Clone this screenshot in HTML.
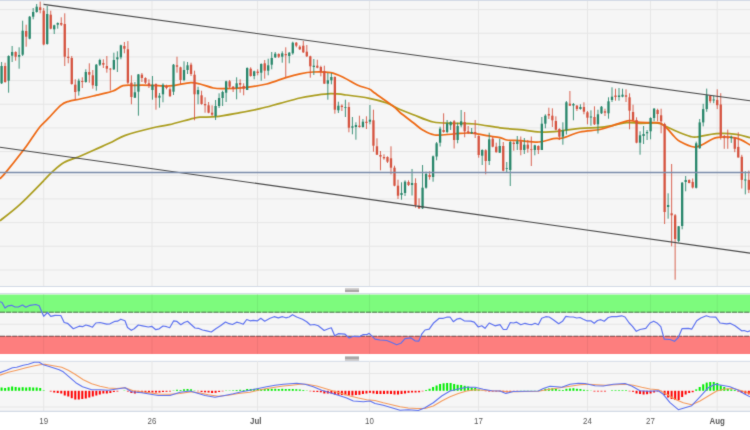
<!DOCTYPE html>
<html><head><meta charset="utf-8"><style>
html,body{margin:0;padding:0;background:#fff;overflow:hidden;}
svg{display:block;font-family:"Liberation Sans",sans-serif;}
</style></head><body>
<svg width="750" height="430" viewBox="0 0 750 430">
<defs><filter id="bl" color-interpolation-filters="sRGB" x="0" y="0" width="750" height="430" filterUnits="userSpaceOnUse"><feConvolveMatrix order="3" kernelMatrix="0.02 0.08 0.02 0.08 0.6 0.08 0.02 0.08 0.02" edgeMode="duplicate" preserveAlpha="true"/></filter></defs>
<g filter="url(#bl)">
<rect x="0" y="0" width="750" height="430" fill="#fff"/>
<rect x="0" y="0" width="750" height="286.5" fill="#f6f6f6"/>
<line x1="0" y1="9.60" x2="750" y2="9.60" stroke="#e6e6e6" stroke-width="1"/>
<line x1="0" y1="33.27" x2="750" y2="33.27" stroke="#e6e6e6" stroke-width="1"/>
<line x1="0" y1="56.94" x2="750" y2="56.94" stroke="#e6e6e6" stroke-width="1"/>
<line x1="0" y1="80.61" x2="750" y2="80.61" stroke="#e6e6e6" stroke-width="1"/>
<line x1="0" y1="104.28" x2="750" y2="104.28" stroke="#e6e6e6" stroke-width="1"/>
<line x1="0" y1="127.95" x2="750" y2="127.95" stroke="#e6e6e6" stroke-width="1"/>
<line x1="0" y1="151.62" x2="750" y2="151.62" stroke="#e6e6e6" stroke-width="1"/>
<line x1="0" y1="175.29" x2="750" y2="175.29" stroke="#e6e6e6" stroke-width="1"/>
<line x1="0" y1="198.96" x2="750" y2="198.96" stroke="#e6e6e6" stroke-width="1"/>
<line x1="0" y1="222.63" x2="750" y2="222.63" stroke="#e6e6e6" stroke-width="1"/>
<line x1="0" y1="246.30" x2="750" y2="246.30" stroke="#e6e6e6" stroke-width="1"/>
<line x1="0" y1="269.97" x2="750" y2="269.97" stroke="#e6e6e6" stroke-width="1"/>
<line x1="43.7" y1="0" x2="43.7" y2="286.5" stroke="#e6e6e6" stroke-width="1"/>
<line x1="152" y1="0" x2="152" y2="286.5" stroke="#e6e6e6" stroke-width="1"/>
<line x1="257.5" y1="0" x2="257.5" y2="286.5" stroke="#e6e6e6" stroke-width="1"/>
<line x1="369.5" y1="0" x2="369.5" y2="286.5" stroke="#e6e6e6" stroke-width="1"/>
<line x1="478.5" y1="0" x2="478.5" y2="286.5" stroke="#e6e6e6" stroke-width="1"/>
<line x1="587.5" y1="0" x2="587.5" y2="286.5" stroke="#e6e6e6" stroke-width="1"/>
<line x1="650.5" y1="0" x2="650.5" y2="286.5" stroke="#e6e6e6" stroke-width="1"/>
<line x1="717.2" y1="0" x2="717.2" y2="286.5" stroke="#e6e6e6" stroke-width="1"/>
<line x1="0" y1="0.5" x2="750" y2="0.5" stroke="#d3dae6" stroke-width="1.2"/>
<line x1="0" y1="286.5" x2="750" y2="286.5" stroke="#d3dae6" stroke-width="1.2"/>
<rect x="345" y="288.2" width="14" height="1.8" fill="#c9c6c6"/>
<rect x="345" y="290.0" width="14" height="2.1" fill="#a9a5a5"/>
<rect x="0" y="294" width="750" height="60" fill="#f6f6f6"/>
<line x1="0" y1="293.6" x2="750" y2="293.6" stroke="#d3dae6" stroke-width="1"/>
<rect x="0" y="294.6" width="750" height="17.4" fill="#7dfb7d"/>
<rect x="0" y="336" width="750" height="18" fill="#fd7e7e"/>
<line x1="0" y1="324.3" x2="750" y2="324.3" stroke="#e6e6e6" stroke-width="1"/>
<line x1="43.7" y1="294" x2="43.7" y2="354" stroke="rgba(0,0,0,0.06)" stroke-width="1"/>
<line x1="152" y1="294" x2="152" y2="354" stroke="rgba(0,0,0,0.06)" stroke-width="1"/>
<line x1="257.5" y1="294" x2="257.5" y2="354" stroke="rgba(0,0,0,0.06)" stroke-width="1"/>
<line x1="369.5" y1="294" x2="369.5" y2="354" stroke="rgba(0,0,0,0.06)" stroke-width="1"/>
<line x1="478.5" y1="294" x2="478.5" y2="354" stroke="rgba(0,0,0,0.06)" stroke-width="1"/>
<line x1="587.5" y1="294" x2="587.5" y2="354" stroke="rgba(0,0,0,0.06)" stroke-width="1"/>
<line x1="650.5" y1="294" x2="650.5" y2="354" stroke="rgba(0,0,0,0.06)" stroke-width="1"/>
<line x1="717.2" y1="294" x2="717.2" y2="354" stroke="rgba(0,0,0,0.06)" stroke-width="1"/>
<rect x="0" y="312" width="750" height="0.6" fill="#7dfb7d"/>
<line x1="0" y1="312.2" x2="750" y2="312.2" stroke="#262626" stroke-width="0.85" stroke-dasharray="5,1.1" opacity="0.8"/>
<line x1="0" y1="336.2" x2="750" y2="336.2" stroke="#262626" stroke-width="0.85" stroke-dasharray="5,1.1" opacity="0.8"/>
<rect x="345" y="356.4" width="14" height="2.6" fill="#a9a6a6"/>
<rect x="345" y="359.0" width="14" height="1.9" fill="#cac7c7"/>
<rect x="0" y="361" width="750" height="50.5" fill="#f6f6f6"/>
<line x1="0" y1="361.3" x2="750" y2="361.3" stroke="#d3dae6" stroke-width="1"/>
<line x1="0" y1="373.5" x2="750" y2="373.5" stroke="#e6e6e6" stroke-width="1"/>
<line x1="0" y1="407" x2="750" y2="407" stroke="#e6e6e6" stroke-width="1"/>
<line x1="43.7" y1="361" x2="43.7" y2="411" stroke="#e6e6e6" stroke-width="1"/>
<line x1="152" y1="361" x2="152" y2="411" stroke="#e6e6e6" stroke-width="1"/>
<line x1="257.5" y1="361" x2="257.5" y2="411" stroke="#e6e6e6" stroke-width="1"/>
<line x1="369.5" y1="361" x2="369.5" y2="411" stroke="#e6e6e6" stroke-width="1"/>
<line x1="478.5" y1="361" x2="478.5" y2="411" stroke="#e6e6e6" stroke-width="1"/>
<line x1="587.5" y1="361" x2="587.5" y2="411" stroke="#e6e6e6" stroke-width="1"/>
<line x1="650.5" y1="361" x2="650.5" y2="411" stroke="#e6e6e6" stroke-width="1"/>
<line x1="717.2" y1="361" x2="717.2" y2="411" stroke="#e6e6e6" stroke-width="1"/>
<line x1="0" y1="411.4" x2="750" y2="411.4" stroke="#d3dae6" stroke-width="1.2"/>
<path d="M0.0,220.8 C3.2,218.2 12.5,211.3 19.5,204.9 C26.5,198.5 37.7,186.8 41.8,182.6 C45.9,178.4 42.5,181.8 44.2,180.0 C46.0,178.2 49.0,174.8 52.3,171.9 C55.6,169.0 59.4,165.2 64.0,162.6 C68.6,160.0 75.0,158.3 80.0,156.2 C85.0,154.1 88.8,152.4 94.1,150.0 C99.4,147.6 106.8,144.4 112.0,142.0 C117.2,139.6 118.6,137.7 125.3,135.4 C132.0,133.1 144.7,129.8 152.0,128.0 C159.3,126.2 162.4,126.3 169.3,124.7 C176.2,123.1 188.2,119.5 193.3,118.3 C198.4,117.0 196.2,117.5 200.0,117.2 C203.8,116.9 209.3,117.5 216.0,116.7 C222.7,116.0 232.7,114.0 240.0,112.7 C247.3,111.4 253.3,110.3 260.0,108.7 C266.7,107.1 273.3,105.1 280.0,103.3 C286.7,101.5 294.4,99.3 300.0,98.0 C305.6,96.7 308.2,96.4 313.3,95.7 C318.4,95.0 325.1,93.8 330.7,93.7 C336.3,93.6 340.3,94.2 346.7,95.0 C353.1,95.8 362.6,97.0 369.3,98.3 C376.0,99.6 381.6,101.1 386.7,103.0 C391.8,104.9 395.6,107.5 400.0,109.5 C404.4,111.5 407.8,112.6 413.3,114.7 C418.9,116.8 426.6,120.6 433.3,122.0 C440.0,123.4 446.4,123.0 453.3,123.3 C460.2,123.6 466.9,123.2 474.7,124.0 C482.5,124.8 492.4,126.8 500.0,127.8 C507.6,128.8 513.3,129.0 520.0,129.7 C526.7,130.4 533.3,131.8 540.0,132.0 C546.7,132.2 553.3,131.6 560.0,131.0 C566.7,130.4 573.3,128.9 580.0,128.3 C586.7,127.7 594.5,127.9 600.0,127.4 C605.5,126.9 608.8,126.1 613.3,125.3 C617.8,124.5 622.2,123.0 626.7,122.7 C631.2,122.4 635.3,123.2 640.0,123.3 C644.7,123.3 651.5,122.9 655.0,123.0 C658.5,123.1 659.0,123.4 661.0,124.0 C663.0,124.6 663.5,125.2 666.7,126.7 C669.9,128.2 676.1,131.1 680.0,132.7 C683.9,134.3 687.2,135.6 690.0,136.3 C692.8,137.0 692.2,137.4 696.6,137.0 C701.0,136.6 709.9,134.0 716.5,133.6 C723.1,133.2 730.8,133.6 736.4,134.3 C742.0,135.0 747.7,137.1 750.0,137.6" fill="none" stroke="#ab9d1e" stroke-width="1.75"/>
<path d="M0.0,178.8 C1.0,177.7 1.9,177.2 5.8,172.4 C9.7,167.7 18.8,156.2 23.3,150.3 C27.8,144.4 29.9,140.9 32.7,137.0 C35.5,133.1 37.5,129.8 40.0,126.7 C42.5,123.7 44.5,122.3 48.0,118.7 C51.5,115.1 57.2,108.2 60.7,105.3 C64.2,102.4 65.5,102.3 68.7,101.3 C71.9,100.2 75.9,99.9 80.0,99.0 C84.1,98.1 90.0,96.8 93.3,96.0 C96.6,95.2 96.7,95.1 100.0,94.3 C103.3,93.5 109.2,92.4 113.0,91.0 C116.8,89.6 119.3,86.7 123.0,85.7 C126.7,84.8 130.5,85.4 135.0,85.3 C139.5,85.2 144.7,85.2 150.0,85.3 C155.3,85.4 162.5,86.0 166.7,86.0 C170.9,86.0 171.0,85.8 175.0,85.3 C179.0,84.8 186.5,82.9 190.7,82.7 C194.9,82.5 196.2,83.1 200.0,84.0 C203.8,84.9 209.5,87.2 213.3,88.0 C217.1,88.8 217.1,88.8 222.7,88.7 C228.3,88.6 239.4,88.1 246.7,87.3 C254.0,86.5 260.0,85.7 266.7,84.0 C273.4,82.3 281.1,79.0 286.7,77.3 C292.2,75.6 295.6,74.7 300.0,73.8 C304.4,72.9 308.2,72.2 313.3,72.0 C318.4,71.8 325.6,71.8 330.7,72.7 C335.8,73.7 339.6,75.7 344.0,77.7 C348.4,79.8 353.1,83.1 357.3,85.0 C361.5,86.9 366.6,87.8 369.3,89.0 C372.0,90.2 369.3,89.1 373.3,92.0 C377.3,94.9 388.9,102.9 393.3,106.3 C397.8,109.7 396.7,109.8 400.0,112.5 C403.3,115.2 409.5,119.8 413.3,122.7 C417.1,125.6 419.1,128.0 422.7,130.0 C426.3,132.1 429.6,134.3 434.7,135.0 C439.8,135.7 448.0,134.3 453.3,134.0 C458.6,133.7 463.1,133.1 466.7,133.0 C470.3,132.9 471.4,132.9 474.7,133.3 C478.0,133.8 482.5,135.0 486.7,135.7 C490.9,136.4 496.7,136.9 500.0,137.6 C503.3,138.3 503.4,139.5 506.7,140.0 C510.0,140.5 514.7,140.4 520.0,140.7 C525.3,141.0 533.2,142.3 538.7,142.0 C544.2,141.7 549.3,139.4 553.3,138.7 C557.3,138.0 558.2,139.1 562.7,138.0 C567.2,136.9 573.8,133.4 580.0,132.0 C586.2,130.6 594.5,130.6 600.0,129.5 C605.5,128.4 608.4,126.8 613.3,125.3 C618.2,123.8 624.8,121.2 629.3,120.7 C633.8,120.2 635.7,122.1 640.0,122.4 C644.3,122.7 651.5,122.4 655.0,122.6 C658.5,122.8 659.0,122.6 661.0,123.5 C663.0,124.4 664.4,125.8 666.7,128.0 C669.0,130.2 672.5,134.8 674.7,137.0 C676.9,139.2 676.8,139.8 680.0,141.5 C683.2,143.2 690.1,146.6 694.0,147.0 C697.9,147.4 699.5,145.8 703.2,144.2 C707.0,142.6 711.0,138.6 716.5,137.6 C722.0,136.6 730.8,137.0 736.4,138.2 C742.0,139.4 747.7,143.8 750.0,144.9" fill="none" stroke="#ee6914" stroke-width="1.75"/>
<line x1="1.60" y1="62.0" x2="1.60" y2="84.0" stroke="#27866a" stroke-width="1" opacity="0.88"/>
<rect x="0.45" y="66.0" width="2.3" height="17.30" fill="#27866a"/>
<line x1="5.11" y1="62.7" x2="5.11" y2="82.7" stroke="#d5513d" stroke-width="1" opacity="0.88"/>
<rect x="3.96" y="66.0" width="2.3" height="16.00" fill="#d5513d"/>
<line x1="8.62" y1="55.3" x2="8.62" y2="92.7" stroke="#27866a" stroke-width="1" opacity="0.88"/>
<rect x="7.47" y="56.0" width="2.3" height="24.70" fill="#27866a"/>
<line x1="12.13" y1="46.0" x2="12.13" y2="62.0" stroke="#27866a" stroke-width="1" opacity="0.88"/>
<rect x="10.98" y="52.0" width="2.3" height="3.70" fill="#27866a"/>
<line x1="15.64" y1="51.3" x2="15.64" y2="60.7" stroke="#d5513d" stroke-width="1" opacity="0.88"/>
<rect x="14.49" y="52.0" width="2.3" height="4.70" fill="#d5513d"/>
<line x1="19.14" y1="47.3" x2="19.14" y2="68.7" stroke="#27866a" stroke-width="1" opacity="0.88"/>
<rect x="17.99" y="55.0" width="2.3" height="1.70" fill="#27866a"/>
<line x1="22.65" y1="20.7" x2="22.65" y2="56.0" stroke="#27866a" stroke-width="1" opacity="0.88"/>
<rect x="21.50" y="30.7" width="2.3" height="24.00" fill="#27866a"/>
<line x1="26.16" y1="24.7" x2="26.16" y2="46.7" stroke="#d5513d" stroke-width="1" opacity="0.88"/>
<rect x="25.01" y="31.0" width="2.3" height="5.70" fill="#d5513d"/>
<line x1="29.67" y1="16.0" x2="29.67" y2="39.3" stroke="#27866a" stroke-width="1" opacity="0.88"/>
<rect x="28.52" y="16.7" width="2.3" height="22.00" fill="#27866a"/>
<line x1="33.18" y1="8.0" x2="33.18" y2="19.3" stroke="#27866a" stroke-width="1" opacity="0.88"/>
<rect x="32.03" y="12.0" width="2.3" height="4.70" fill="#27866a"/>
<line x1="36.68" y1="4.0" x2="36.68" y2="12.7" stroke="#27866a" stroke-width="1" opacity="0.88"/>
<rect x="35.53" y="6.7" width="2.3" height="5.30" fill="#27866a"/>
<line x1="40.19" y1="1.6" x2="40.19" y2="13.3" stroke="#d5513d" stroke-width="1" opacity="0.88"/>
<rect x="39.04" y="7.3" width="2.3" height="2.70" fill="#d5513d"/>
<line x1="43.70" y1="8.0" x2="43.70" y2="45.3" stroke="#d5513d" stroke-width="1" opacity="0.88"/>
<rect x="42.55" y="10.7" width="2.3" height="33.80" fill="#d5513d"/>
<line x1="47.21" y1="6.0" x2="47.21" y2="44.7" stroke="#27866a" stroke-width="1" opacity="0.88"/>
<rect x="46.06" y="14.0" width="2.3" height="30.00" fill="#27866a"/>
<line x1="50.72" y1="10.7" x2="50.72" y2="29.3" stroke="#d5513d" stroke-width="1" opacity="0.88"/>
<rect x="49.57" y="14.7" width="2.3" height="14.00" fill="#d5513d"/>
<line x1="54.22" y1="24.7" x2="54.22" y2="34.0" stroke="#27866a" stroke-width="1" opacity="0.88"/>
<rect x="53.07" y="25.3" width="2.3" height="4.00" fill="#27866a"/>
<line x1="57.73" y1="22.4" x2="57.73" y2="28.7" stroke="#27866a" stroke-width="1" opacity="0.88"/>
<rect x="56.58" y="23.0" width="2.3" height="1.70" fill="#27866a"/>
<line x1="61.24" y1="17.3" x2="61.24" y2="26.0" stroke="#d5513d" stroke-width="1" opacity="0.88"/>
<rect x="60.09" y="23.0" width="2.3" height="1.70" fill="#d5513d"/>
<line x1="64.75" y1="13.3" x2="64.75" y2="66.0" stroke="#d5513d" stroke-width="1" opacity="0.88"/>
<rect x="63.60" y="24.0" width="2.3" height="32.70" fill="#d5513d"/>
<line x1="68.26" y1="48.0" x2="68.26" y2="63.3" stroke="#d5513d" stroke-width="1" opacity="0.88"/>
<rect x="67.11" y="56.7" width="2.3" height="1.30" fill="#d5513d"/>
<line x1="71.76" y1="56.0" x2="71.76" y2="84.7" stroke="#d5513d" stroke-width="1" opacity="0.88"/>
<rect x="70.61" y="58.0" width="2.3" height="26.00" fill="#d5513d"/>
<line x1="75.27" y1="79.3" x2="75.27" y2="100.0" stroke="#d5513d" stroke-width="1" opacity="0.88"/>
<rect x="74.12" y="84.7" width="2.3" height="7.30" fill="#d5513d"/>
<line x1="78.78" y1="78.7" x2="78.78" y2="95.7" stroke="#27866a" stroke-width="1" opacity="0.88"/>
<rect x="77.63" y="80.7" width="2.3" height="10.60" fill="#27866a"/>
<line x1="82.29" y1="77.3" x2="82.29" y2="88.0" stroke="#d5513d" stroke-width="1" opacity="0.88"/>
<rect x="81.14" y="81.0" width="2.3" height="1.00" fill="#d5513d"/>
<line x1="85.80" y1="69.3" x2="85.80" y2="82.7" stroke="#27866a" stroke-width="1" opacity="0.88"/>
<rect x="84.65" y="72.0" width="2.3" height="10.00" fill="#27866a"/>
<line x1="89.30" y1="63.3" x2="89.30" y2="82.7" stroke="#d5513d" stroke-width="1" opacity="0.88"/>
<rect x="88.15" y="72.0" width="2.3" height="2.70" fill="#d5513d"/>
<line x1="92.81" y1="70.0" x2="92.81" y2="88.7" stroke="#d5513d" stroke-width="1" opacity="0.88"/>
<rect x="91.66" y="75.3" width="2.3" height="10.00" fill="#d5513d"/>
<line x1="96.32" y1="64.0" x2="96.32" y2="90.7" stroke="#27866a" stroke-width="1" opacity="0.88"/>
<rect x="95.17" y="64.7" width="2.3" height="21.30" fill="#27866a"/>
<line x1="99.83" y1="58.7" x2="99.83" y2="66.0" stroke="#27866a" stroke-width="1" opacity="0.88"/>
<rect x="98.68" y="60.0" width="2.3" height="4.70" fill="#27866a"/>
<line x1="103.34" y1="59.3" x2="103.34" y2="68.0" stroke="#d5513d" stroke-width="1" opacity="0.88"/>
<rect x="102.19" y="63.0" width="2.3" height="1.70" fill="#d5513d"/>
<line x1="106.84" y1="56.0" x2="106.84" y2="72.7" stroke="#d5513d" stroke-width="1" opacity="0.88"/>
<rect x="105.69" y="66.0" width="2.3" height="2.70" fill="#d5513d"/>
<line x1="110.35" y1="68.0" x2="110.35" y2="90.5" stroke="#d5513d" stroke-width="1" opacity="0.88"/>
<rect x="109.20" y="68.7" width="2.3" height="0.80" fill="#d5513d"/>
<line x1="113.86" y1="52.7" x2="113.86" y2="70.0" stroke="#27866a" stroke-width="1" opacity="0.88"/>
<rect x="112.71" y="60.0" width="2.3" height="9.30" fill="#27866a"/>
<line x1="117.37" y1="51.3" x2="117.37" y2="72.0" stroke="#27866a" stroke-width="1" opacity="0.88"/>
<rect x="116.22" y="57.3" width="2.3" height="2.00" fill="#27866a"/>
<line x1="120.88" y1="44.7" x2="120.88" y2="59.3" stroke="#27866a" stroke-width="1" opacity="0.88"/>
<rect x="119.73" y="45.3" width="2.3" height="12.00" fill="#27866a"/>
<line x1="124.38" y1="42.0" x2="124.38" y2="53.3" stroke="#d5513d" stroke-width="1" opacity="0.88"/>
<rect x="123.23" y="46.0" width="2.3" height="2.70" fill="#d5513d"/>
<line x1="127.89" y1="41.1" x2="127.89" y2="84.0" stroke="#d5513d" stroke-width="1" opacity="0.88"/>
<rect x="126.74" y="49.3" width="2.3" height="33.40" fill="#d5513d"/>
<line x1="131.40" y1="75.3" x2="131.40" y2="104.3" stroke="#d5513d" stroke-width="1" opacity="0.88"/>
<rect x="130.25" y="82.7" width="2.3" height="14.30" fill="#d5513d"/>
<line x1="134.91" y1="82.0" x2="134.91" y2="98.0" stroke="#27866a" stroke-width="1" opacity="0.88"/>
<rect x="133.76" y="92.3" width="2.3" height="5.40" fill="#27866a"/>
<line x1="138.42" y1="74.0" x2="138.42" y2="115.7" stroke="#27866a" stroke-width="1" opacity="0.88"/>
<rect x="137.27" y="74.4" width="2.3" height="17.30" fill="#27866a"/>
<line x1="141.92" y1="73.0" x2="141.92" y2="82.0" stroke="#d5513d" stroke-width="1" opacity="0.88"/>
<rect x="140.77" y="74.7" width="2.3" height="3.30" fill="#d5513d"/>
<line x1="145.43" y1="77.3" x2="145.43" y2="84.0" stroke="#d5513d" stroke-width="1" opacity="0.88"/>
<rect x="144.28" y="78.0" width="2.3" height="4.70" fill="#d5513d"/>
<line x1="148.94" y1="79.3" x2="148.94" y2="88.0" stroke="#d5513d" stroke-width="1" opacity="0.88"/>
<rect x="147.79" y="83.3" width="2.3" height="2.70" fill="#d5513d"/>
<line x1="152.45" y1="76.0" x2="152.45" y2="99.7" stroke="#27866a" stroke-width="1" opacity="0.88"/>
<rect x="151.30" y="84.7" width="2.3" height="5.30" fill="#27866a"/>
<line x1="155.96" y1="83.3" x2="155.96" y2="109.7" stroke="#d5513d" stroke-width="1" opacity="0.88"/>
<rect x="154.81" y="84.0" width="2.3" height="13.70" fill="#d5513d"/>
<line x1="159.46" y1="93.0" x2="159.46" y2="107.7" stroke="#27866a" stroke-width="1" opacity="0.88"/>
<rect x="158.31" y="95.7" width="2.3" height="2.00" fill="#27866a"/>
<line x1="162.97" y1="83.3" x2="162.97" y2="102.3" stroke="#27866a" stroke-width="1" opacity="0.88"/>
<rect x="161.82" y="84.7" width="2.3" height="9.60" fill="#27866a"/>
<line x1="166.48" y1="84.7" x2="166.48" y2="89.3" stroke="#d5513d" stroke-width="1" opacity="0.88"/>
<rect x="165.33" y="86.0" width="2.3" height="2.00" fill="#d5513d"/>
<line x1="169.99" y1="87.3" x2="169.99" y2="96.7" stroke="#d5513d" stroke-width="1" opacity="0.88"/>
<rect x="168.84" y="89.3" width="2.3" height="7.00" fill="#d5513d"/>
<line x1="173.50" y1="64.0" x2="173.50" y2="95.0" stroke="#27866a" stroke-width="1" opacity="0.88"/>
<rect x="172.35" y="64.7" width="2.3" height="27.00" fill="#27866a"/>
<line x1="177.00" y1="56.7" x2="177.00" y2="72.7" stroke="#d5513d" stroke-width="1" opacity="0.88"/>
<rect x="175.85" y="65.3" width="2.3" height="1.40" fill="#d5513d"/>
<line x1="180.51" y1="66.7" x2="180.51" y2="84.0" stroke="#d5513d" stroke-width="1" opacity="0.88"/>
<rect x="179.36" y="67.3" width="2.3" height="12.70" fill="#d5513d"/>
<line x1="184.02" y1="61.3" x2="184.02" y2="81.3" stroke="#27866a" stroke-width="1" opacity="0.88"/>
<rect x="182.87" y="70.0" width="2.3" height="10.00" fill="#27866a"/>
<line x1="187.53" y1="62.0" x2="187.53" y2="74.0" stroke="#27866a" stroke-width="1" opacity="0.88"/>
<rect x="186.38" y="65.3" width="2.3" height="4.70" fill="#27866a"/>
<line x1="191.04" y1="62.7" x2="191.04" y2="76.0" stroke="#d5513d" stroke-width="1" opacity="0.88"/>
<rect x="189.89" y="64.7" width="2.3" height="9.30" fill="#d5513d"/>
<line x1="194.54" y1="70.7" x2="194.54" y2="120.3" stroke="#d5513d" stroke-width="1" opacity="0.88"/>
<rect x="193.39" y="74.7" width="2.3" height="19.60" fill="#d5513d"/>
<line x1="198.05" y1="86.7" x2="198.05" y2="104.3" stroke="#27866a" stroke-width="1" opacity="0.88"/>
<rect x="196.90" y="90.0" width="2.3" height="4.30" fill="#27866a"/>
<line x1="201.56" y1="90.7" x2="201.56" y2="104.7" stroke="#d5513d" stroke-width="1" opacity="0.88"/>
<rect x="200.41" y="95.3" width="2.3" height="8.70" fill="#d5513d"/>
<line x1="205.07" y1="97.3" x2="205.07" y2="112.7" stroke="#d5513d" stroke-width="1" opacity="0.88"/>
<rect x="203.92" y="104.0" width="2.3" height="1.30" fill="#d5513d"/>
<line x1="208.58" y1="102.0" x2="208.58" y2="113.3" stroke="#d5513d" stroke-width="1" opacity="0.88"/>
<rect x="207.43" y="105.3" width="2.3" height="7.40" fill="#d5513d"/>
<line x1="212.08" y1="105.3" x2="212.08" y2="116.0" stroke="#d5513d" stroke-width="1" opacity="0.88"/>
<rect x="210.93" y="112.7" width="2.3" height="2.00" fill="#d5513d"/>
<line x1="215.59" y1="100.0" x2="215.59" y2="120.0" stroke="#27866a" stroke-width="1" opacity="0.88"/>
<rect x="214.44" y="106.0" width="2.3" height="10.00" fill="#27866a"/>
<line x1="219.10" y1="93.3" x2="219.10" y2="108.0" stroke="#27866a" stroke-width="1" opacity="0.88"/>
<rect x="217.95" y="98.0" width="2.3" height="8.00" fill="#27866a"/>
<line x1="222.61" y1="90.7" x2="222.61" y2="106.0" stroke="#27866a" stroke-width="1" opacity="0.88"/>
<rect x="221.46" y="92.0" width="2.3" height="6.00" fill="#27866a"/>
<line x1="226.12" y1="80.7" x2="226.12" y2="102.0" stroke="#27866a" stroke-width="1" opacity="0.88"/>
<rect x="224.97" y="81.3" width="2.3" height="11.40" fill="#27866a"/>
<line x1="229.62" y1="80.0" x2="229.62" y2="88.0" stroke="#d5513d" stroke-width="1" opacity="0.88"/>
<rect x="228.47" y="81.3" width="2.3" height="5.40" fill="#d5513d"/>
<line x1="233.13" y1="86.0" x2="233.13" y2="92.0" stroke="#d5513d" stroke-width="1" opacity="0.88"/>
<rect x="231.98" y="86.7" width="2.3" height="2.00" fill="#d5513d"/>
<line x1="236.64" y1="77.3" x2="236.64" y2="99.3" stroke="#27866a" stroke-width="1" opacity="0.88"/>
<rect x="235.49" y="83.3" width="2.3" height="4.70" fill="#27866a"/>
<line x1="240.15" y1="79.3" x2="240.15" y2="92.7" stroke="#d5513d" stroke-width="1" opacity="0.88"/>
<rect x="239.00" y="83.0" width="2.3" height="1.70" fill="#d5513d"/>
<line x1="243.66" y1="83.3" x2="243.66" y2="95.3" stroke="#d5513d" stroke-width="1" opacity="0.88"/>
<rect x="242.51" y="86.0" width="2.3" height="2.70" fill="#d5513d"/>
<line x1="247.16" y1="67.3" x2="247.16" y2="90.0" stroke="#27866a" stroke-width="1" opacity="0.88"/>
<rect x="246.01" y="68.0" width="2.3" height="22.00" fill="#27866a"/>
<line x1="250.67" y1="67.3" x2="250.67" y2="76.7" stroke="#d5513d" stroke-width="1" opacity="0.88"/>
<rect x="249.52" y="68.7" width="2.3" height="7.30" fill="#d5513d"/>
<line x1="254.18" y1="70.7" x2="254.18" y2="79.3" stroke="#27866a" stroke-width="1" opacity="0.88"/>
<rect x="253.03" y="71.3" width="2.3" height="4.70" fill="#27866a"/>
<line x1="257.69" y1="69.3" x2="257.69" y2="75.3" stroke="#d5513d" stroke-width="1" opacity="0.88"/>
<rect x="256.54" y="71.6" width="2.3" height="1.40" fill="#d5513d"/>
<line x1="261.20" y1="63.3" x2="261.20" y2="80.7" stroke="#27866a" stroke-width="1" opacity="0.88"/>
<rect x="260.05" y="64.0" width="2.3" height="8.70" fill="#27866a"/>
<line x1="264.70" y1="60.0" x2="264.70" y2="78.7" stroke="#d5513d" stroke-width="1" opacity="0.88"/>
<rect x="263.55" y="63.3" width="2.3" height="7.40" fill="#d5513d"/>
<line x1="268.21" y1="58.7" x2="268.21" y2="75.3" stroke="#27866a" stroke-width="1" opacity="0.88"/>
<rect x="267.06" y="65.3" width="2.3" height="5.40" fill="#27866a"/>
<line x1="271.72" y1="52.0" x2="271.72" y2="69.3" stroke="#27866a" stroke-width="1" opacity="0.88"/>
<rect x="270.57" y="58.0" width="2.3" height="6.70" fill="#27866a"/>
<line x1="275.23" y1="52.0" x2="275.23" y2="58.0" stroke="#27866a" stroke-width="1" opacity="0.88"/>
<rect x="274.08" y="53.7" width="2.3" height="3.60" fill="#27866a"/>
<line x1="278.74" y1="53.3" x2="278.74" y2="58.0" stroke="#d5513d" stroke-width="1" opacity="0.88"/>
<rect x="277.59" y="54.0" width="2.3" height="2.70" fill="#d5513d"/>
<line x1="282.24" y1="51.3" x2="282.24" y2="62.7" stroke="#27866a" stroke-width="1" opacity="0.88"/>
<rect x="281.09" y="53.3" width="2.3" height="3.40" fill="#27866a"/>
<line x1="285.75" y1="47.3" x2="285.75" y2="77.3" stroke="#d5513d" stroke-width="1" opacity="0.88"/>
<rect x="284.60" y="54.0" width="2.3" height="1.30" fill="#d5513d"/>
<line x1="289.26" y1="52.0" x2="289.26" y2="63.3" stroke="#27866a" stroke-width="1" opacity="0.88"/>
<rect x="288.11" y="52.7" width="2.3" height="3.30" fill="#27866a"/>
<line x1="292.77" y1="41.7" x2="292.77" y2="54.7" stroke="#27866a" stroke-width="1" opacity="0.88"/>
<rect x="291.62" y="42.7" width="2.3" height="10.60" fill="#27866a"/>
<line x1="296.28" y1="42.0" x2="296.28" y2="47.3" stroke="#d5513d" stroke-width="1" opacity="0.88"/>
<rect x="295.13" y="42.7" width="2.3" height="3.00" fill="#d5513d"/>
<line x1="299.78" y1="45.3" x2="299.78" y2="50.0" stroke="#d5513d" stroke-width="1" opacity="0.88"/>
<rect x="298.63" y="46.7" width="2.3" height="2.60" fill="#d5513d"/>
<line x1="303.29" y1="41.0" x2="303.29" y2="53.0" stroke="#d5513d" stroke-width="1" opacity="0.88"/>
<rect x="302.14" y="45.7" width="2.3" height="6.60" fill="#d5513d"/>
<line x1="306.80" y1="45.0" x2="306.80" y2="57.0" stroke="#d5513d" stroke-width="1" opacity="0.88"/>
<rect x="305.65" y="51.7" width="2.3" height="4.60" fill="#d5513d"/>
<line x1="310.31" y1="55.7" x2="310.31" y2="77.7" stroke="#d5513d" stroke-width="1" opacity="0.88"/>
<rect x="309.16" y="56.3" width="2.3" height="10.00" fill="#d5513d"/>
<line x1="313.82" y1="59.0" x2="313.82" y2="75.0" stroke="#27866a" stroke-width="1" opacity="0.88"/>
<rect x="312.67" y="65.7" width="2.3" height="1.30" fill="#27866a"/>
<line x1="317.32" y1="59.7" x2="317.32" y2="68.3" stroke="#d5513d" stroke-width="1" opacity="0.88"/>
<rect x="316.17" y="65.7" width="2.3" height="2.00" fill="#d5513d"/>
<line x1="320.83" y1="65.7" x2="320.83" y2="76.3" stroke="#d5513d" stroke-width="1" opacity="0.88"/>
<rect x="319.68" y="67.0" width="2.3" height="4.70" fill="#d5513d"/>
<line x1="324.34" y1="65.7" x2="324.34" y2="83.7" stroke="#d5513d" stroke-width="1" opacity="0.88"/>
<rect x="323.19" y="71.0" width="2.3" height="12.70" fill="#d5513d"/>
<line x1="327.85" y1="73.0" x2="327.85" y2="99.7" stroke="#27866a" stroke-width="1" opacity="0.88"/>
<rect x="326.70" y="80.3" width="2.3" height="3.40" fill="#27866a"/>
<line x1="331.36" y1="73.0" x2="331.36" y2="84.3" stroke="#27866a" stroke-width="1" opacity="0.88"/>
<rect x="330.21" y="77.0" width="2.3" height="3.30" fill="#27866a"/>
<line x1="334.86" y1="76.3" x2="334.86" y2="113.7" stroke="#d5513d" stroke-width="1" opacity="0.88"/>
<rect x="333.71" y="77.0" width="2.3" height="32.70" fill="#d5513d"/>
<line x1="338.37" y1="101.7" x2="338.37" y2="113.0" stroke="#27866a" stroke-width="1" opacity="0.88"/>
<rect x="337.22" y="105.7" width="2.3" height="4.60" fill="#27866a"/>
<line x1="341.88" y1="104.3" x2="341.88" y2="111.0" stroke="#d5513d" stroke-width="1" opacity="0.88"/>
<rect x="340.73" y="105.7" width="2.3" height="1.30" fill="#d5513d"/>
<line x1="345.39" y1="99.7" x2="345.39" y2="117.0" stroke="#27866a" stroke-width="1" opacity="0.88"/>
<rect x="344.24" y="107.0" width="2.3" height="0.80" fill="#27866a"/>
<line x1="348.90" y1="102.3" x2="348.90" y2="132.3" stroke="#d5513d" stroke-width="1" opacity="0.88"/>
<rect x="347.75" y="107.0" width="2.3" height="20.70" fill="#d5513d"/>
<line x1="352.40" y1="117.0" x2="352.40" y2="134.3" stroke="#27866a" stroke-width="1" opacity="0.88"/>
<rect x="351.25" y="126.3" width="2.3" height="1.40" fill="#27866a"/>
<line x1="355.91" y1="122.3" x2="355.91" y2="139.7" stroke="#27866a" stroke-width="1" opacity="0.88"/>
<rect x="354.76" y="125.0" width="2.3" height="2.00" fill="#27866a"/>
<line x1="359.42" y1="115.7" x2="359.42" y2="127.7" stroke="#d5513d" stroke-width="1" opacity="0.88"/>
<rect x="358.27" y="125.7" width="2.3" height="1.30" fill="#d5513d"/>
<line x1="362.93" y1="119.0" x2="362.93" y2="127.7" stroke="#27866a" stroke-width="1" opacity="0.88"/>
<rect x="361.78" y="121.7" width="2.3" height="5.30" fill="#27866a"/>
<line x1="366.44" y1="116.3" x2="366.44" y2="129.0" stroke="#d5513d" stroke-width="1" opacity="0.88"/>
<rect x="365.29" y="121.7" width="2.3" height="1.30" fill="#d5513d"/>
<line x1="369.94" y1="105.0" x2="369.94" y2="124.3" stroke="#27866a" stroke-width="1" opacity="0.88"/>
<rect x="368.79" y="119.7" width="2.3" height="2.00" fill="#27866a"/>
<line x1="373.45" y1="109.7" x2="373.45" y2="151.7" stroke="#d5513d" stroke-width="1" opacity="0.88"/>
<rect x="372.30" y="120.3" width="2.3" height="25.40" fill="#d5513d"/>
<line x1="376.96" y1="138.3" x2="376.96" y2="155.0" stroke="#d5513d" stroke-width="1" opacity="0.88"/>
<rect x="375.81" y="146.3" width="2.3" height="8.40" fill="#d5513d"/>
<line x1="380.47" y1="151.0" x2="380.47" y2="170.3" stroke="#d5513d" stroke-width="1" opacity="0.88"/>
<rect x="379.32" y="155.0" width="2.3" height="1.60" fill="#d5513d"/>
<line x1="383.98" y1="154.3" x2="383.98" y2="159.7" stroke="#d5513d" stroke-width="1" opacity="0.88"/>
<rect x="382.83" y="157.0" width="2.3" height="1.30" fill="#d5513d"/>
<line x1="387.48" y1="156.3" x2="387.48" y2="163.0" stroke="#d5513d" stroke-width="1" opacity="0.88"/>
<rect x="386.33" y="157.0" width="2.3" height="4.70" fill="#d5513d"/>
<line x1="390.99" y1="146.3" x2="390.99" y2="174.3" stroke="#d5513d" stroke-width="1" opacity="0.88"/>
<rect x="389.84" y="158.3" width="2.3" height="9.40" fill="#d5513d"/>
<line x1="394.50" y1="165.7" x2="394.50" y2="186.3" stroke="#d5513d" stroke-width="1" opacity="0.88"/>
<rect x="393.35" y="167.7" width="2.3" height="18.00" fill="#d5513d"/>
<line x1="398.01" y1="179.7" x2="398.01" y2="199.0" stroke="#d5513d" stroke-width="1" opacity="0.88"/>
<rect x="396.86" y="185.7" width="2.3" height="10.00" fill="#d5513d"/>
<line x1="401.52" y1="182.3" x2="401.52" y2="199.7" stroke="#27866a" stroke-width="1" opacity="0.88"/>
<rect x="400.37" y="193.0" width="2.3" height="2.00" fill="#27866a"/>
<line x1="405.02" y1="180.3" x2="405.02" y2="196.0" stroke="#27866a" stroke-width="1" opacity="0.88"/>
<rect x="403.87" y="181.7" width="2.3" height="11.30" fill="#27866a"/>
<line x1="408.53" y1="180.3" x2="408.53" y2="186.0" stroke="#d5513d" stroke-width="1" opacity="0.88"/>
<rect x="407.38" y="182.0" width="2.3" height="3.00" fill="#d5513d"/>
<line x1="412.04" y1="169.0" x2="412.04" y2="195.5" stroke="#27866a" stroke-width="1" opacity="0.88"/>
<rect x="410.89" y="183.0" width="2.3" height="2.00" fill="#27866a"/>
<line x1="415.55" y1="178.3" x2="415.55" y2="207.7" stroke="#d5513d" stroke-width="1" opacity="0.88"/>
<rect x="414.40" y="183.0" width="2.3" height="22.00" fill="#d5513d"/>
<line x1="419.06" y1="198.3" x2="419.06" y2="209.0" stroke="#d5513d" stroke-width="1" opacity="0.88"/>
<rect x="417.91" y="205.7" width="2.3" height="2.60" fill="#d5513d"/>
<line x1="422.56" y1="165.0" x2="422.56" y2="209.0" stroke="#27866a" stroke-width="1" opacity="0.88"/>
<rect x="421.41" y="187.7" width="2.3" height="20.60" fill="#27866a"/>
<line x1="426.07" y1="171.7" x2="426.07" y2="188.7" stroke="#27866a" stroke-width="1" opacity="0.88"/>
<rect x="424.92" y="174.0" width="2.3" height="13.70" fill="#27866a"/>
<line x1="429.58" y1="171.3" x2="429.58" y2="179.7" stroke="#d5513d" stroke-width="1" opacity="0.88"/>
<rect x="428.43" y="175.0" width="2.3" height="2.00" fill="#d5513d"/>
<line x1="433.09" y1="155.5" x2="433.09" y2="181.7" stroke="#27866a" stroke-width="1" opacity="0.88"/>
<rect x="431.94" y="156.3" width="2.3" height="20.70" fill="#27866a"/>
<line x1="436.60" y1="142.0" x2="436.60" y2="160.3" stroke="#27866a" stroke-width="1" opacity="0.88"/>
<rect x="435.45" y="143.3" width="2.3" height="13.20" fill="#27866a"/>
<line x1="440.10" y1="126.7" x2="440.10" y2="146.5" stroke="#27866a" stroke-width="1" opacity="0.88"/>
<rect x="438.95" y="128.7" width="2.3" height="14.00" fill="#27866a"/>
<line x1="443.61" y1="113.3" x2="443.61" y2="132.7" stroke="#d5513d" stroke-width="1" opacity="0.88"/>
<rect x="442.46" y="130.0" width="2.3" height="2.00" fill="#d5513d"/>
<line x1="447.12" y1="120.0" x2="447.12" y2="133.3" stroke="#27866a" stroke-width="1" opacity="0.88"/>
<rect x="445.97" y="123.3" width="2.3" height="8.70" fill="#27866a"/>
<line x1="450.63" y1="121.3" x2="450.63" y2="130.0" stroke="#27866a" stroke-width="1" opacity="0.88"/>
<rect x="449.48" y="122.0" width="2.3" height="3.30" fill="#27866a"/>
<line x1="454.14" y1="120.0" x2="454.14" y2="148.5" stroke="#d5513d" stroke-width="1" opacity="0.88"/>
<rect x="452.99" y="121.3" width="2.3" height="18.70" fill="#d5513d"/>
<line x1="457.64" y1="122.7" x2="457.64" y2="143.3" stroke="#27866a" stroke-width="1" opacity="0.88"/>
<rect x="456.49" y="126.0" width="2.3" height="14.00" fill="#27866a"/>
<line x1="461.15" y1="110.0" x2="461.15" y2="127.3" stroke="#27866a" stroke-width="1" opacity="0.88"/>
<rect x="460.00" y="121.3" width="2.3" height="4.00" fill="#27866a"/>
<line x1="464.66" y1="112.0" x2="464.66" y2="137.3" stroke="#d5513d" stroke-width="1" opacity="0.88"/>
<rect x="463.51" y="122.0" width="2.3" height="9.30" fill="#d5513d"/>
<line x1="468.17" y1="126.0" x2="468.17" y2="134.0" stroke="#d5513d" stroke-width="1" opacity="0.88"/>
<rect x="467.02" y="131.3" width="2.3" height="1.40" fill="#d5513d"/>
<line x1="471.68" y1="128.0" x2="471.68" y2="134.0" stroke="#27866a" stroke-width="1" opacity="0.88"/>
<rect x="470.53" y="132.0" width="2.3" height="1.30" fill="#27866a"/>
<line x1="475.18" y1="120.0" x2="475.18" y2="138.0" stroke="#d5513d" stroke-width="1" opacity="0.88"/>
<rect x="474.03" y="132.0" width="2.3" height="2.00" fill="#d5513d"/>
<line x1="478.69" y1="135.3" x2="478.69" y2="157.7" stroke="#d5513d" stroke-width="1" opacity="0.88"/>
<rect x="477.54" y="136.0" width="2.3" height="19.00" fill="#d5513d"/>
<line x1="482.20" y1="149.3" x2="482.20" y2="165.0" stroke="#27866a" stroke-width="1" opacity="0.88"/>
<rect x="481.05" y="150.0" width="2.3" height="5.70" fill="#27866a"/>
<line x1="485.71" y1="149.3" x2="485.71" y2="174.3" stroke="#d5513d" stroke-width="1" opacity="0.88"/>
<rect x="484.56" y="150.3" width="2.3" height="10.70" fill="#d5513d"/>
<line x1="489.22" y1="132.7" x2="489.22" y2="165.0" stroke="#27866a" stroke-width="1" opacity="0.88"/>
<rect x="488.07" y="139.3" width="2.3" height="21.70" fill="#27866a"/>
<line x1="492.72" y1="136.7" x2="492.72" y2="147.3" stroke="#d5513d" stroke-width="1" opacity="0.88"/>
<rect x="491.57" y="138.7" width="2.3" height="8.00" fill="#d5513d"/>
<line x1="496.23" y1="142.7" x2="496.23" y2="152.7" stroke="#d5513d" stroke-width="1" opacity="0.88"/>
<rect x="495.08" y="146.7" width="2.3" height="5.50" fill="#d5513d"/>
<line x1="499.74" y1="138.7" x2="499.74" y2="153.0" stroke="#27866a" stroke-width="1" opacity="0.88"/>
<rect x="498.59" y="146.0" width="2.3" height="6.70" fill="#27866a"/>
<line x1="503.25" y1="142.0" x2="503.25" y2="171.3" stroke="#d5513d" stroke-width="1" opacity="0.88"/>
<rect x="502.10" y="146.0" width="2.3" height="24.70" fill="#d5513d"/>
<line x1="506.76" y1="162.0" x2="506.76" y2="172.0" stroke="#27866a" stroke-width="1" opacity="0.88"/>
<rect x="505.61" y="168.0" width="2.3" height="0.80" fill="#27866a"/>
<line x1="510.26" y1="141.0" x2="510.26" y2="186.0" stroke="#27866a" stroke-width="1" opacity="0.88"/>
<rect x="509.11" y="142.0" width="2.3" height="28.00" fill="#27866a"/>
<line x1="513.77" y1="141.3" x2="513.77" y2="150.7" stroke="#d5513d" stroke-width="1" opacity="0.88"/>
<rect x="512.62" y="142.7" width="2.3" height="1.30" fill="#d5513d"/>
<line x1="517.28" y1="136.0" x2="517.28" y2="150.0" stroke="#27866a" stroke-width="1" opacity="0.88"/>
<rect x="516.13" y="141.3" width="2.3" height="2.70" fill="#27866a"/>
<line x1="520.79" y1="136.5" x2="520.79" y2="155.3" stroke="#d5513d" stroke-width="1" opacity="0.88"/>
<rect x="519.64" y="141.3" width="2.3" height="8.70" fill="#d5513d"/>
<line x1="524.30" y1="138.0" x2="524.30" y2="154.0" stroke="#27866a" stroke-width="1" opacity="0.88"/>
<rect x="523.15" y="144.7" width="2.3" height="5.30" fill="#27866a"/>
<line x1="527.80" y1="140.0" x2="527.80" y2="152.7" stroke="#d5513d" stroke-width="1" opacity="0.88"/>
<rect x="526.65" y="144.7" width="2.3" height="4.00" fill="#d5513d"/>
<line x1="531.31" y1="136.5" x2="531.31" y2="166.0" stroke="#d5513d" stroke-width="1" opacity="0.88"/>
<rect x="530.16" y="149.3" width="2.3" height="0.80" fill="#d5513d"/>
<line x1="534.82" y1="144.7" x2="534.82" y2="155.3" stroke="#27866a" stroke-width="1" opacity="0.88"/>
<rect x="533.67" y="145.3" width="2.3" height="4.70" fill="#27866a"/>
<line x1="538.33" y1="145.3" x2="538.33" y2="154.0" stroke="#d5513d" stroke-width="1" opacity="0.88"/>
<rect x="537.18" y="146.0" width="2.3" height="4.00" fill="#d5513d"/>
<line x1="541.84" y1="117.0" x2="541.84" y2="150.0" stroke="#27866a" stroke-width="1" opacity="0.88"/>
<rect x="540.69" y="123.7" width="2.3" height="26.30" fill="#27866a"/>
<line x1="545.34" y1="114.3" x2="545.34" y2="128.3" stroke="#27866a" stroke-width="1" opacity="0.88"/>
<rect x="544.19" y="115.7" width="2.3" height="8.00" fill="#27866a"/>
<line x1="548.85" y1="107.7" x2="548.85" y2="119.0" stroke="#d5513d" stroke-width="1" opacity="0.88"/>
<rect x="547.70" y="114.0" width="2.3" height="1.50" fill="#d5513d"/>
<line x1="552.36" y1="108.3" x2="552.36" y2="127.0" stroke="#d5513d" stroke-width="1" opacity="0.88"/>
<rect x="551.21" y="115.7" width="2.3" height="4.60" fill="#d5513d"/>
<line x1="555.87" y1="116.3" x2="555.87" y2="130.3" stroke="#d5513d" stroke-width="1" opacity="0.88"/>
<rect x="554.72" y="121.0" width="2.3" height="8.70" fill="#d5513d"/>
<line x1="559.38" y1="128.3" x2="559.38" y2="140.0" stroke="#d5513d" stroke-width="1" opacity="0.88"/>
<rect x="558.23" y="129.0" width="2.3" height="7.70" fill="#d5513d"/>
<line x1="562.88" y1="122.3" x2="562.88" y2="144.7" stroke="#27866a" stroke-width="1" opacity="0.88"/>
<rect x="561.73" y="130.3" width="2.3" height="6.40" fill="#27866a"/>
<line x1="566.39" y1="101.0" x2="566.39" y2="134.5" stroke="#27866a" stroke-width="1" opacity="0.88"/>
<rect x="565.24" y="102.3" width="2.3" height="28.00" fill="#27866a"/>
<line x1="569.90" y1="91.0" x2="569.90" y2="105.7" stroke="#d5513d" stroke-width="1" opacity="0.88"/>
<rect x="568.75" y="103.7" width="2.3" height="2.00" fill="#d5513d"/>
<line x1="573.41" y1="103.0" x2="573.41" y2="120.3" stroke="#27866a" stroke-width="1" opacity="0.88"/>
<rect x="572.26" y="104.0" width="2.3" height="1.50" fill="#27866a"/>
<line x1="576.92" y1="105.0" x2="576.92" y2="111.0" stroke="#d5513d" stroke-width="1" opacity="0.88"/>
<rect x="575.77" y="105.7" width="2.3" height="3.30" fill="#d5513d"/>
<line x1="580.42" y1="104.3" x2="580.42" y2="109.7" stroke="#27866a" stroke-width="1" opacity="0.88"/>
<rect x="579.27" y="107.0" width="2.3" height="2.00" fill="#27866a"/>
<line x1="583.93" y1="102.3" x2="583.93" y2="114.3" stroke="#d5513d" stroke-width="1" opacity="0.88"/>
<rect x="582.78" y="107.0" width="2.3" height="4.70" fill="#d5513d"/>
<line x1="587.44" y1="111.0" x2="587.44" y2="124.3" stroke="#d5513d" stroke-width="1" opacity="0.88"/>
<rect x="586.29" y="112.3" width="2.3" height="5.40" fill="#d5513d"/>
<line x1="590.95" y1="110.3" x2="590.95" y2="125.7" stroke="#27866a" stroke-width="1" opacity="0.88"/>
<rect x="589.80" y="116.5" width="2.3" height="1.00" fill="#27866a"/>
<line x1="594.46" y1="106.3" x2="594.46" y2="125.0" stroke="#d5513d" stroke-width="1" opacity="0.88"/>
<rect x="593.31" y="117.0" width="2.3" height="7.30" fill="#d5513d"/>
<line x1="597.96" y1="109.7" x2="597.96" y2="133.5" stroke="#27866a" stroke-width="1" opacity="0.88"/>
<rect x="596.81" y="114.3" width="2.3" height="10.00" fill="#27866a"/>
<line x1="601.47" y1="106.0" x2="601.47" y2="114.0" stroke="#27866a" stroke-width="1" opacity="0.88"/>
<rect x="600.32" y="106.7" width="2.3" height="6.60" fill="#27866a"/>
<line x1="604.98" y1="108.7" x2="604.98" y2="116.0" stroke="#d5513d" stroke-width="1" opacity="0.88"/>
<rect x="603.83" y="111.3" width="2.3" height="1.40" fill="#d5513d"/>
<line x1="608.49" y1="97.3" x2="608.49" y2="118.7" stroke="#27866a" stroke-width="1" opacity="0.88"/>
<rect x="607.34" y="101.3" width="2.3" height="12.00" fill="#27866a"/>
<line x1="612.00" y1="87.3" x2="612.00" y2="102.0" stroke="#27866a" stroke-width="1" opacity="0.88"/>
<rect x="610.85" y="96.7" width="2.3" height="3.30" fill="#27866a"/>
<line x1="615.50" y1="88.7" x2="615.50" y2="100.7" stroke="#d5513d" stroke-width="1" opacity="0.88"/>
<rect x="614.35" y="95.5" width="2.3" height="1.50" fill="#d5513d"/>
<line x1="619.01" y1="88.0" x2="619.01" y2="100.7" stroke="#27866a" stroke-width="1" opacity="0.88"/>
<rect x="617.86" y="95.5" width="2.3" height="1.50" fill="#27866a"/>
<line x1="622.52" y1="88.7" x2="622.52" y2="97.3" stroke="#27866a" stroke-width="1" opacity="0.88"/>
<rect x="621.37" y="94.7" width="2.3" height="2.00" fill="#27866a"/>
<line x1="626.03" y1="89.3" x2="626.03" y2="102.0" stroke="#d5513d" stroke-width="1" opacity="0.88"/>
<rect x="624.88" y="95.3" width="2.3" height="1.40" fill="#d5513d"/>
<line x1="629.54" y1="93.3" x2="629.54" y2="129.3" stroke="#d5513d" stroke-width="1" opacity="0.88"/>
<rect x="628.39" y="97.3" width="2.3" height="13.40" fill="#d5513d"/>
<line x1="633.04" y1="104.7" x2="633.04" y2="120.7" stroke="#d5513d" stroke-width="1" opacity="0.88"/>
<rect x="631.89" y="112.0" width="2.3" height="8.00" fill="#d5513d"/>
<line x1="636.55" y1="117.3" x2="636.55" y2="143.3" stroke="#d5513d" stroke-width="1" opacity="0.88"/>
<rect x="635.40" y="120.0" width="2.3" height="22.70" fill="#d5513d"/>
<line x1="640.06" y1="131.3" x2="640.06" y2="154.7" stroke="#27866a" stroke-width="1" opacity="0.88"/>
<rect x="638.91" y="135.3" width="2.3" height="7.40" fill="#27866a"/>
<line x1="643.57" y1="126.0" x2="643.57" y2="144.0" stroke="#27866a" stroke-width="1" opacity="0.88"/>
<rect x="642.42" y="134.0" width="2.3" height="2.00" fill="#27866a"/>
<line x1="647.08" y1="130.0" x2="647.08" y2="140.0" stroke="#27866a" stroke-width="1" opacity="0.88"/>
<rect x="645.93" y="132.0" width="2.3" height="1.30" fill="#27866a"/>
<line x1="650.58" y1="117.3" x2="650.58" y2="139.3" stroke="#27866a" stroke-width="1" opacity="0.88"/>
<rect x="649.43" y="118.0" width="2.3" height="13.30" fill="#27866a"/>
<line x1="654.09" y1="108.0" x2="654.09" y2="121.3" stroke="#27866a" stroke-width="1" opacity="0.88"/>
<rect x="652.94" y="108.7" width="2.3" height="9.30" fill="#27866a"/>
<line x1="657.60" y1="108.7" x2="657.60" y2="121.3" stroke="#d5513d" stroke-width="1" opacity="0.88"/>
<rect x="656.45" y="110.0" width="2.3" height="4.00" fill="#d5513d"/>
<line x1="661.11" y1="108.7" x2="661.11" y2="133.3" stroke="#d5513d" stroke-width="1" opacity="0.88"/>
<rect x="659.96" y="115.3" width="2.3" height="6.00" fill="#d5513d"/>
<line x1="664.62" y1="122.7" x2="664.62" y2="224.0" stroke="#d5513d" stroke-width="1" opacity="0.88"/>
<rect x="663.47" y="124.0" width="2.3" height="88.00" fill="#d5513d"/>
<line x1="668.12" y1="193.3" x2="668.12" y2="218.7" stroke="#27866a" stroke-width="1" opacity="0.88"/>
<rect x="666.97" y="205.0" width="2.3" height="2.00" fill="#27866a"/>
<line x1="671.63" y1="164.0" x2="671.63" y2="246.3" stroke="#d5513d" stroke-width="1" opacity="0.88"/>
<rect x="670.48" y="213.3" width="2.3" height="2.00" fill="#d5513d"/>
<line x1="675.14" y1="214.0" x2="675.14" y2="279.7" stroke="#d5513d" stroke-width="1" opacity="0.88"/>
<rect x="673.99" y="215.3" width="2.3" height="23.70" fill="#d5513d"/>
<line x1="678.65" y1="226.0" x2="678.65" y2="242.3" stroke="#27866a" stroke-width="1" opacity="0.88"/>
<rect x="677.50" y="226.3" width="2.3" height="14.70" fill="#27866a"/>
<line x1="682.16" y1="182.0" x2="682.16" y2="229.3" stroke="#27866a" stroke-width="1" opacity="0.88"/>
<rect x="681.01" y="182.7" width="2.3" height="43.30" fill="#27866a"/>
<line x1="685.66" y1="176.0" x2="685.66" y2="191.3" stroke="#27866a" stroke-width="1" opacity="0.88"/>
<rect x="684.51" y="180.0" width="2.3" height="2.00" fill="#27866a"/>
<line x1="689.17" y1="179.3" x2="689.17" y2="183.3" stroke="#d5513d" stroke-width="1" opacity="0.88"/>
<rect x="688.02" y="180.0" width="2.3" height="3.00" fill="#d5513d"/>
<line x1="692.68" y1="178.5" x2="692.68" y2="188.5" stroke="#d5513d" stroke-width="1" opacity="0.88"/>
<rect x="691.53" y="181.9" width="2.3" height="5.60" fill="#d5513d"/>
<line x1="696.19" y1="141.6" x2="696.19" y2="188.5" stroke="#27866a" stroke-width="1" opacity="0.88"/>
<rect x="695.04" y="143.3" width="2.3" height="44.50" fill="#27866a"/>
<line x1="699.70" y1="119.0" x2="699.70" y2="148.8" stroke="#27866a" stroke-width="1" opacity="0.88"/>
<rect x="698.55" y="122.4" width="2.3" height="25.80" fill="#27866a"/>
<line x1="703.20" y1="103.8" x2="703.20" y2="126.4" stroke="#27866a" stroke-width="1" opacity="0.88"/>
<rect x="702.05" y="109.1" width="2.3" height="13.30" fill="#27866a"/>
<line x1="706.71" y1="88.6" x2="706.71" y2="111.8" stroke="#27866a" stroke-width="1" opacity="0.88"/>
<rect x="705.56" y="95.2" width="2.3" height="13.90" fill="#27866a"/>
<line x1="710.22" y1="95.2" x2="710.22" y2="103.2" stroke="#d5513d" stroke-width="1" opacity="0.88"/>
<rect x="709.07" y="95.9" width="2.3" height="5.30" fill="#d5513d"/>
<line x1="713.73" y1="95.9" x2="713.73" y2="103.2" stroke="#27866a" stroke-width="1" opacity="0.88"/>
<rect x="712.58" y="99.5" width="2.3" height="1.00" fill="#27866a"/>
<line x1="717.24" y1="89.3" x2="717.24" y2="109.1" stroke="#d5513d" stroke-width="1" opacity="0.88"/>
<rect x="716.09" y="99.9" width="2.3" height="5.30" fill="#d5513d"/>
<line x1="720.74" y1="93.2" x2="720.74" y2="139.6" stroke="#d5513d" stroke-width="1" opacity="0.88"/>
<rect x="719.59" y="104.5" width="2.3" height="31.80" fill="#d5513d"/>
<line x1="724.25" y1="135.0" x2="724.25" y2="148.8" stroke="#d5513d" stroke-width="1" opacity="0.88"/>
<rect x="723.10" y="136.3" width="2.3" height="1.90" fill="#d5513d"/>
<line x1="727.76" y1="129.6" x2="727.76" y2="148.8" stroke="#d5513d" stroke-width="1" opacity="0.88"/>
<rect x="726.61" y="137.6" width="2.3" height="0.80" fill="#d5513d"/>
<line x1="731.27" y1="135.6" x2="731.27" y2="142.9" stroke="#27866a" stroke-width="1" opacity="0.88"/>
<rect x="730.12" y="136.9" width="2.3" height="1.30" fill="#27866a"/>
<line x1="734.78" y1="136.9" x2="734.78" y2="152.2" stroke="#d5513d" stroke-width="1" opacity="0.88"/>
<rect x="733.63" y="137.6" width="2.3" height="11.20" fill="#d5513d"/>
<line x1="738.28" y1="132.3" x2="738.28" y2="157.5" stroke="#d5513d" stroke-width="1" opacity="0.88"/>
<rect x="737.13" y="146.9" width="2.3" height="10.60" fill="#d5513d"/>
<line x1="741.79" y1="154.8" x2="741.79" y2="188.5" stroke="#d5513d" stroke-width="1" opacity="0.88"/>
<rect x="740.64" y="156.8" width="2.3" height="23.10" fill="#d5513d"/>
<line x1="745.30" y1="171.3" x2="745.30" y2="194.4" stroke="#27866a" stroke-width="1" opacity="0.88"/>
<rect x="744.15" y="179.5" width="2.3" height="1.00" fill="#27866a"/>
<line x1="748.81" y1="170.6" x2="748.81" y2="193.1" stroke="#d5513d" stroke-width="1" opacity="0.88"/>
<rect x="747.66" y="179.9" width="2.3" height="9.90" fill="#d5513d"/>
<line x1="43.6" y1="4.4" x2="750" y2="100.8" stroke="#474747" stroke-width="1.1"/>
<line x1="0" y1="147.2" x2="750" y2="253.1" stroke="#474747" stroke-width="1.1"/>
<line x1="0" y1="172.5" x2="750" y2="172.5" stroke="#7a8cab" stroke-width="1.4"/>
<rect x="0.60" y="387.50" width="2" height="3.30" fill="#00ee00"/>
<rect x="4.11" y="388.00" width="2" height="2.80" fill="#00ee00"/>
<rect x="7.62" y="387.20" width="2" height="3.60" fill="#00ee00"/>
<rect x="11.13" y="386.50" width="2" height="4.30" fill="#00ee00"/>
<rect x="14.64" y="387.00" width="2" height="3.80" fill="#00ee00"/>
<rect x="18.14" y="387.50" width="2" height="3.30" fill="#00ee00"/>
<rect x="21.65" y="387.20" width="2" height="3.60" fill="#00ee00"/>
<rect x="25.16" y="387.50" width="2" height="3.30" fill="#00ee00"/>
<rect x="28.67" y="387.20" width="2" height="3.60" fill="#00ee00"/>
<rect x="32.18" y="387.50" width="2" height="3.30" fill="#00ee00"/>
<rect x="35.68" y="387.50" width="2" height="3.30" fill="#00ee00"/>
<rect x="39.19" y="388.00" width="2" height="2.80" fill="#00ee00"/>
<rect x="42.70" y="390.30" width="2" height="0.50" fill="#00ee00"/>
<rect x="49.72" y="390.80" width="2" height="0.70" fill="#ff0000"/>
<rect x="53.22" y="390.80" width="2" height="1.70" fill="#ff0000"/>
<rect x="56.73" y="390.80" width="2" height="2.20" fill="#ff0000"/>
<rect x="60.24" y="390.80" width="2" height="2.70" fill="#ff0000"/>
<rect x="63.75" y="390.80" width="2" height="4.70" fill="#ff0000"/>
<rect x="67.26" y="390.80" width="2" height="5.70" fill="#ff0000"/>
<rect x="70.76" y="390.80" width="2" height="7.40" fill="#ff0000"/>
<rect x="74.27" y="390.80" width="2" height="8.70" fill="#ff0000"/>
<rect x="77.78" y="390.80" width="2" height="8.70" fill="#ff0000"/>
<rect x="81.29" y="390.80" width="2" height="8.20" fill="#ff0000"/>
<rect x="84.80" y="390.80" width="2" height="7.70" fill="#ff0000"/>
<rect x="88.30" y="390.80" width="2" height="6.70" fill="#ff0000"/>
<rect x="91.81" y="390.80" width="2" height="5.70" fill="#ff0000"/>
<rect x="95.32" y="390.80" width="2" height="4.70" fill="#ff0000"/>
<rect x="98.83" y="390.80" width="2" height="3.70" fill="#ff0000"/>
<rect x="102.34" y="390.80" width="2" height="2.70" fill="#ff0000"/>
<rect x="105.84" y="390.80" width="2" height="2.70" fill="#ff0000"/>
<rect x="109.35" y="390.80" width="2" height="2.20" fill="#ff0000"/>
<rect x="112.86" y="390.80" width="2" height="1.20" fill="#ff0000"/>
<rect x="116.37" y="390.80" width="2" height="0.70" fill="#ff0000"/>
<rect x="123.38" y="390.50" width="2" height="0.30" fill="#00ee00"/>
<rect x="126.89" y="390.80" width="2" height="0.70" fill="#ff0000"/>
<rect x="130.40" y="390.80" width="2" height="2.20" fill="#ff0000"/>
<rect x="133.91" y="390.80" width="2" height="2.70" fill="#ff0000"/>
<rect x="137.42" y="390.80" width="2" height="2.20" fill="#ff0000"/>
<rect x="140.92" y="390.80" width="2" height="1.70" fill="#ff0000"/>
<rect x="144.43" y="390.80" width="2" height="1.70" fill="#ff0000"/>
<rect x="147.94" y="390.80" width="2" height="1.70" fill="#ff0000"/>
<rect x="151.45" y="390.80" width="2" height="1.70" fill="#ff0000"/>
<rect x="154.96" y="390.80" width="2" height="1.70" fill="#ff0000"/>
<rect x="158.46" y="390.80" width="2" height="1.70" fill="#ff0000"/>
<rect x="161.97" y="390.80" width="2" height="1.20" fill="#ff0000"/>
<rect x="165.48" y="390.80" width="2" height="1.00" fill="#ff0000"/>
<rect x="168.99" y="390.80" width="2" height="0.70" fill="#ff0000"/>
<rect x="172.50" y="390.50" width="2" height="0.30" fill="#00ee00"/>
<rect x="176.00" y="389.80" width="2" height="1.00" fill="#00ee00"/>
<rect x="179.51" y="390.00" width="2" height="0.80" fill="#00ee00"/>
<rect x="183.02" y="389.30" width="2" height="1.50" fill="#00ee00"/>
<rect x="186.53" y="389.00" width="2" height="1.80" fill="#00ee00"/>
<rect x="190.04" y="389.30" width="2" height="1.50" fill="#00ee00"/>
<rect x="193.54" y="390.50" width="2" height="0.30" fill="#00ee00"/>
<rect x="197.05" y="390.80" width="2" height="0.40" fill="#ff0000"/>
<rect x="200.56" y="390.80" width="2" height="1.20" fill="#ff0000"/>
<rect x="204.07" y="390.80" width="2" height="1.50" fill="#ff0000"/>
<rect x="207.58" y="390.80" width="2" height="1.70" fill="#ff0000"/>
<rect x="211.08" y="390.80" width="2" height="2.20" fill="#ff0000"/>
<rect x="214.59" y="390.80" width="2" height="2.00" fill="#ff0000"/>
<rect x="218.10" y="390.80" width="2" height="1.20" fill="#ff0000"/>
<rect x="221.61" y="390.80" width="2" height="0.50" fill="#ff0000"/>
<rect x="225.12" y="390.50" width="2" height="0.30" fill="#00ee00"/>
<rect x="228.62" y="390.50" width="2" height="0.30" fill="#00ee00"/>
<rect x="232.13" y="390.30" width="2" height="0.50" fill="#00ee00"/>
<rect x="235.64" y="390.00" width="2" height="0.80" fill="#00ee00"/>
<rect x="239.15" y="389.80" width="2" height="1.00" fill="#00ee00"/>
<rect x="242.66" y="390.00" width="2" height="0.80" fill="#00ee00"/>
<rect x="246.16" y="389.00" width="2" height="1.80" fill="#00ee00"/>
<rect x="249.67" y="389.00" width="2" height="1.80" fill="#00ee00"/>
<rect x="253.18" y="388.80" width="2" height="2.00" fill="#00ee00"/>
<rect x="256.69" y="388.80" width="2" height="2.00" fill="#00ee00"/>
<rect x="260.20" y="389.00" width="2" height="1.80" fill="#00ee00"/>
<rect x="263.70" y="389.00" width="2" height="1.80" fill="#00ee00"/>
<rect x="267.21" y="389.00" width="2" height="1.80" fill="#00ee00"/>
<rect x="270.72" y="388.80" width="2" height="2.00" fill="#00ee00"/>
<rect x="274.23" y="388.80" width="2" height="2.00" fill="#00ee00"/>
<rect x="277.74" y="389.00" width="2" height="1.80" fill="#00ee00"/>
<rect x="281.24" y="388.80" width="2" height="2.00" fill="#00ee00"/>
<rect x="284.75" y="389.00" width="2" height="1.80" fill="#00ee00"/>
<rect x="288.26" y="389.00" width="2" height="1.80" fill="#00ee00"/>
<rect x="291.77" y="389.00" width="2" height="1.80" fill="#00ee00"/>
<rect x="295.28" y="389.20" width="2" height="1.60" fill="#00ee00"/>
<rect x="298.78" y="389.50" width="2" height="1.30" fill="#00ee00"/>
<rect x="302.29" y="390.00" width="2" height="0.80" fill="#00ee00"/>
<rect x="305.80" y="390.50" width="2" height="0.30" fill="#00ee00"/>
<rect x="309.31" y="390.80" width="2" height="0.50" fill="#ff0000"/>
<rect x="312.82" y="390.80" width="2" height="1.00" fill="#ff0000"/>
<rect x="316.32" y="390.80" width="2" height="1.20" fill="#ff0000"/>
<rect x="319.83" y="390.80" width="2" height="1.50" fill="#ff0000"/>
<rect x="323.34" y="390.80" width="2" height="2.70" fill="#ff0000"/>
<rect x="326.85" y="390.80" width="2" height="2.70" fill="#ff0000"/>
<rect x="330.36" y="390.80" width="2" height="2.70" fill="#ff0000"/>
<rect x="333.86" y="390.80" width="2" height="3.70" fill="#ff0000"/>
<rect x="337.37" y="390.80" width="2" height="4.00" fill="#ff0000"/>
<rect x="340.88" y="390.80" width="2" height="4.20" fill="#ff0000"/>
<rect x="344.39" y="390.80" width="2" height="4.40" fill="#ff0000"/>
<rect x="347.90" y="390.80" width="2" height="4.70" fill="#ff0000"/>
<rect x="351.40" y="390.80" width="2" height="4.70" fill="#ff0000"/>
<rect x="354.91" y="390.80" width="2" height="4.20" fill="#ff0000"/>
<rect x="358.42" y="390.80" width="2" height="4.00" fill="#ff0000"/>
<rect x="361.93" y="390.80" width="2" height="3.20" fill="#ff0000"/>
<rect x="365.44" y="390.80" width="2" height="2.70" fill="#ff0000"/>
<rect x="368.94" y="390.80" width="2" height="2.00" fill="#ff0000"/>
<rect x="372.45" y="390.80" width="2" height="2.70" fill="#ff0000"/>
<rect x="375.96" y="390.80" width="2" height="3.20" fill="#ff0000"/>
<rect x="379.47" y="390.80" width="2" height="3.20" fill="#ff0000"/>
<rect x="382.98" y="390.80" width="2" height="3.20" fill="#ff0000"/>
<rect x="386.48" y="390.80" width="2" height="3.00" fill="#ff0000"/>
<rect x="389.99" y="390.80" width="2" height="3.20" fill="#ff0000"/>
<rect x="393.50" y="390.80" width="2" height="3.70" fill="#ff0000"/>
<rect x="397.01" y="390.80" width="2" height="3.70" fill="#ff0000"/>
<rect x="400.52" y="390.80" width="2" height="3.20" fill="#ff0000"/>
<rect x="404.02" y="390.80" width="2" height="2.70" fill="#ff0000"/>
<rect x="407.53" y="390.80" width="2" height="2.00" fill="#ff0000"/>
<rect x="411.04" y="390.80" width="2" height="1.70" fill="#ff0000"/>
<rect x="414.55" y="390.80" width="2" height="1.70" fill="#ff0000"/>
<rect x="418.06" y="390.80" width="2" height="1.50" fill="#ff0000"/>
<rect x="421.56" y="390.80" width="2" height="0.50" fill="#ff0000"/>
<rect x="425.07" y="390.00" width="2" height="0.80" fill="#00ee00"/>
<rect x="428.58" y="388.80" width="2" height="2.00" fill="#00ee00"/>
<rect x="432.09" y="387.00" width="2" height="3.80" fill="#00ee00"/>
<rect x="435.60" y="385.50" width="2" height="5.30" fill="#00ee00"/>
<rect x="439.10" y="384.00" width="2" height="6.80" fill="#00ee00"/>
<rect x="442.61" y="383.30" width="2" height="7.50" fill="#00ee00"/>
<rect x="446.12" y="383.00" width="2" height="7.80" fill="#00ee00"/>
<rect x="449.63" y="383.00" width="2" height="7.80" fill="#00ee00"/>
<rect x="453.14" y="384.00" width="2" height="6.80" fill="#00ee00"/>
<rect x="456.64" y="384.80" width="2" height="6.00" fill="#00ee00"/>
<rect x="460.15" y="385.00" width="2" height="5.80" fill="#00ee00"/>
<rect x="463.66" y="385.80" width="2" height="5.00" fill="#00ee00"/>
<rect x="467.17" y="386.50" width="2" height="4.30" fill="#00ee00"/>
<rect x="470.68" y="387.50" width="2" height="3.30" fill="#00ee00"/>
<rect x="474.18" y="388.00" width="2" height="2.80" fill="#00ee00"/>
<rect x="477.69" y="389.50" width="2" height="1.30" fill="#00ee00"/>
<rect x="481.20" y="390.50" width="2" height="0.30" fill="#00ee00"/>
<rect x="484.71" y="390.80" width="2" height="0.40" fill="#ff0000"/>
<rect x="488.22" y="390.80" width="2" height="0.70" fill="#ff0000"/>
<rect x="491.72" y="390.80" width="2" height="0.70" fill="#ff0000"/>
<rect x="495.23" y="390.80" width="2" height="0.70" fill="#ff0000"/>
<rect x="498.74" y="390.80" width="2" height="0.70" fill="#ff0000"/>
<rect x="502.25" y="390.80" width="2" height="1.20" fill="#ff0000"/>
<rect x="505.76" y="390.80" width="2" height="1.50" fill="#ff0000"/>
<rect x="509.26" y="390.80" width="2" height="1.20" fill="#ff0000"/>
<rect x="512.77" y="390.80" width="2" height="0.70" fill="#ff0000"/>
<rect x="516.28" y="390.80" width="2" height="0.20" fill="#ff0000"/>
<rect x="519.79" y="390.60" width="2" height="0.20" fill="#00ee00"/>
<rect x="523.30" y="390.60" width="2" height="0.20" fill="#00ee00"/>
<rect x="526.80" y="390.60" width="2" height="0.20" fill="#00ee00"/>
<rect x="530.31" y="390.60" width="2" height="0.20" fill="#00ee00"/>
<rect x="533.82" y="390.60" width="2" height="0.20" fill="#00ee00"/>
<rect x="537.33" y="390.60" width="2" height="0.20" fill="#00ee00"/>
<rect x="540.84" y="390.00" width="2" height="0.80" fill="#00ee00"/>
<rect x="544.34" y="388.80" width="2" height="2.00" fill="#00ee00"/>
<rect x="547.85" y="388.50" width="2" height="2.30" fill="#00ee00"/>
<rect x="551.36" y="388.20" width="2" height="2.60" fill="#00ee00"/>
<rect x="554.87" y="388.80" width="2" height="2.00" fill="#00ee00"/>
<rect x="558.38" y="389.80" width="2" height="1.00" fill="#00ee00"/>
<rect x="561.88" y="390.00" width="2" height="0.80" fill="#00ee00"/>
<rect x="565.39" y="388.80" width="2" height="2.00" fill="#00ee00"/>
<rect x="568.90" y="388.50" width="2" height="2.30" fill="#00ee00"/>
<rect x="572.41" y="388.20" width="2" height="2.60" fill="#00ee00"/>
<rect x="575.92" y="388.80" width="2" height="2.00" fill="#00ee00"/>
<rect x="579.42" y="389.00" width="2" height="1.80" fill="#00ee00"/>
<rect x="582.93" y="389.80" width="2" height="1.00" fill="#00ee00"/>
<rect x="586.44" y="390.20" width="2" height="0.60" fill="#00ee00"/>
<rect x="589.95" y="390.60" width="2" height="0.20" fill="#00ee00"/>
<rect x="593.46" y="390.80" width="2" height="0.70" fill="#ff0000"/>
<rect x="596.96" y="390.80" width="2" height="0.70" fill="#ff0000"/>
<rect x="600.47" y="390.80" width="2" height="0.70" fill="#ff0000"/>
<rect x="603.98" y="390.80" width="2" height="0.70" fill="#ff0000"/>
<rect x="611.00" y="390.30" width="2" height="0.50" fill="#00ee00"/>
<rect x="614.50" y="390.20" width="2" height="0.60" fill="#00ee00"/>
<rect x="618.01" y="390.20" width="2" height="0.60" fill="#00ee00"/>
<rect x="621.52" y="390.20" width="2" height="0.60" fill="#00ee00"/>
<rect x="625.03" y="390.20" width="2" height="0.60" fill="#00ee00"/>
<rect x="628.54" y="390.80" width="2" height="0.50" fill="#ff0000"/>
<rect x="632.04" y="390.80" width="2" height="1.00" fill="#ff0000"/>
<rect x="635.55" y="390.80" width="2" height="2.70" fill="#ff0000"/>
<rect x="639.06" y="390.80" width="2" height="3.20" fill="#ff0000"/>
<rect x="642.57" y="390.80" width="2" height="3.70" fill="#ff0000"/>
<rect x="646.08" y="390.80" width="2" height="3.40" fill="#ff0000"/>
<rect x="649.58" y="390.80" width="2" height="2.70" fill="#ff0000"/>
<rect x="653.09" y="390.80" width="2" height="1.70" fill="#ff0000"/>
<rect x="656.60" y="390.80" width="2" height="0.70" fill="#ff0000"/>
<rect x="660.11" y="390.80" width="2" height="0.20" fill="#ff0000"/>
<rect x="663.62" y="390.80" width="2" height="4.20" fill="#ff0000"/>
<rect x="667.12" y="390.80" width="2" height="6.70" fill="#ff0000"/>
<rect x="670.63" y="390.80" width="2" height="8.20" fill="#ff0000"/>
<rect x="674.14" y="390.80" width="2" height="9.20" fill="#ff0000"/>
<rect x="677.65" y="390.80" width="2" height="9.20" fill="#ff0000"/>
<rect x="681.16" y="390.80" width="2" height="6.20" fill="#ff0000"/>
<rect x="684.66" y="390.80" width="2" height="3.70" fill="#ff0000"/>
<rect x="688.17" y="390.80" width="2" height="2.20" fill="#ff0000"/>
<rect x="691.68" y="390.80" width="2" height="1.40" fill="#ff0000"/>
<rect x="695.19" y="389.40" width="2" height="1.40" fill="#00ee00"/>
<rect x="698.70" y="387.00" width="2" height="3.80" fill="#00ee00"/>
<rect x="702.20" y="384.30" width="2" height="6.50" fill="#00ee00"/>
<rect x="705.71" y="382.60" width="2" height="8.20" fill="#00ee00"/>
<rect x="709.22" y="382.00" width="2" height="8.80" fill="#00ee00"/>
<rect x="712.73" y="382.00" width="2" height="8.80" fill="#00ee00"/>
<rect x="716.24" y="383.00" width="2" height="7.80" fill="#00ee00"/>
<rect x="719.74" y="385.40" width="2" height="5.40" fill="#00ee00"/>
<rect x="723.25" y="387.00" width="2" height="3.80" fill="#00ee00"/>
<rect x="726.76" y="388.60" width="2" height="2.20" fill="#00ee00"/>
<rect x="730.27" y="389.40" width="2" height="1.40" fill="#00ee00"/>
<rect x="733.78" y="390.00" width="2" height="0.80" fill="#00ee00"/>
<rect x="737.28" y="390.80" width="2" height="0.70" fill="#ff0000"/>
<rect x="740.79" y="390.80" width="2" height="2.20" fill="#ff0000"/>
<rect x="744.30" y="390.80" width="2" height="2.80" fill="#ff0000"/>
<rect x="747.81" y="390.80" width="2" height="3.60" fill="#ff0000"/>
<path d="M0.0,375.2 L8.3,372.3 L16.7,370.2 L25.0,368.0 L33.3,366.0 L40.0,364.7 L45.0,364.3 L53.3,365.7 L61.7,367.3 L68.3,370.2 L75.0,374.3 L83.3,379.7 L91.7,383.8 L100.0,386.3 L108.3,388.0 L116.7,388.5 L125.0,387.7 L133.3,390.7 L141.7,391.8 L158.3,394.0 L170.0,394.3 L180.0,393.5 L191.7,391.8 L200.0,393.0 L208.3,394.8 L218.3,396.3 L228.3,395.2 L238.3,393.5 L250.0,392.3 L258.3,390.2 L266.7,388.5 L275.0,387.2 L283.3,386.0 L291.7,385.2 L300.0,384.3 L306.7,384.3 L316.7,386.0 L325.0,388.5 L333.3,391.0 L341.7,393.5 L350.0,396.0 L358.3,398.0 L366.7,399.7 L375.0,400.5 L383.3,402.7 L391.7,404.7 L400.0,406.8 L408.3,408.0 L416.7,408.5 L425.0,408.5 L433.3,406.0 L441.7,401.0 L450.0,396.8 L458.3,393.5 L466.7,391.0 L475.0,389.8 L483.3,390.2 L491.7,390.7 L500.0,391.0 L508.3,391.8 L516.7,391.8 L525.0,391.5 L538.3,391.3 L546.7,389.7 L555.0,388.5 L563.3,387.3 L571.7,386.0 L580.0,384.8 L588.3,384.3 L596.7,384.7 L605.0,385.2 L615.0,384.8 L625.0,384.3 L633.3,385.2 L641.7,387.3 L650.0,389.0 L658.3,389.7 L666.7,394.3 L675.0,399.3 L683.3,402.7 L691.7,404.7 L700.0,401.0 L708.3,396.0 L716.7,391.0 L725.0,389.0 L733.3,388.5 L741.7,390.7 L750.0,393.5" fill="none" stroke="#f59a5b" stroke-width="1.1" stroke-linejoin="round"/>
<path d="M0.0,372.7 L6.7,370.2 L12.5,367.7 L16.7,367.3 L23.3,365.2 L28.3,364.3 L34.2,362.3 L39.2,362.3 L43.3,364.7 L50.0,366.8 L59.2,369.7 L63.3,371.8 L70.0,377.7 L75.8,382.7 L82.5,386.8 L91.7,389.7 L100.0,389.7 L108.3,390.2 L116.7,389.0 L125.0,387.7 L131.7,391.8 L141.7,392.7 L158.3,395.5 L170.0,395.5 L180.0,392.3 L190.0,391.0 L196.7,393.0 L205.0,395.5 L215.0,397.3 L223.3,395.7 L233.3,393.8 L241.7,391.8 L250.0,390.2 L258.3,388.5 L266.7,386.8 L275.0,385.2 L283.3,384.3 L296.7,383.2 L305.0,384.3 L313.3,386.8 L321.7,390.2 L330.0,392.7 L338.3,395.2 L346.7,398.0 L353.3,401.0 L363.3,401.8 L370.0,401.0 L375.0,403.5 L383.3,405.2 L391.7,407.7 L400.0,410.2 L408.3,409.7 L418.3,410.5 L425.0,407.7 L433.3,402.7 L441.7,396.0 L450.0,391.0 L458.3,389.0 L466.7,387.3 L475.0,387.3 L483.3,389.3 L491.7,390.7 L500.0,391.0 L505.8,393.5 L513.3,391.5 L525.0,391.3 L538.3,391.0 L543.3,388.5 L550.0,386.3 L556.7,386.8 L561.7,387.3 L570.0,384.3 L578.3,383.2 L585.0,383.5 L595.0,385.7 L603.3,386.0 L613.3,384.3 L625.0,383.5 L631.7,386.0 L640.0,390.7 L648.3,391.3 L658.3,390.7 L663.3,394.3 L670.0,402.7 L678.3,409.7 L691.7,405.7 L700.0,396.8 L708.3,387.7 L715.0,384.3 L721.7,385.2 L730.0,386.8 L738.3,390.2 L745.0,394.3 L750.0,396.8" fill="none" stroke="#5b70f0" stroke-width="1.1" stroke-linejoin="round"/>
<path d="M0.0,301.7 L2.0,302.5 L5.0,308.0 L8.3,305.8 L11.7,305.3 L15.0,307.0 L18.3,307.0 L22.5,305.0 L25.8,307.2 L30.0,305.3 L35.8,304.5 L39.2,305.8 L41.7,311.7 L43.7,316.3 L47.5,312.5 L50.8,316.3 L55.0,315.3 L60.8,315.5 L64.2,322.5 L67.5,323.3 L73.3,328.7 L79.2,326.2 L82.5,326.7 L85.8,325.0 L90.0,326.2 L92.5,327.2 L95.8,323.0 L100.0,322.5 L106.7,324.2 L110.0,323.8 L115.0,321.3 L117.5,321.2 L120.8,319.2 L125.0,320.8 L127.5,327.5 L131.3,330.3 L134.2,328.8 L138.3,325.0 L142.5,325.8 L148.3,327.0 L151.7,326.3 L155.8,329.7 L159.2,328.8 L163.0,326.0 L166.7,326.7 L169.7,327.7 L173.7,320.8 L176.7,321.3 L180.8,324.7 L184.2,322.5 L187.5,321.3 L190.8,324.2 L195.0,328.0 L198.3,328.3 L202.5,330.0 L206.7,330.8 L211.3,332.0 L215.8,328.7 L220.8,325.5 L225.5,322.0 L229.2,323.7 L232.5,324.5 L236.7,322.2 L240.0,323.0 L243.3,324.2 L246.7,319.5 L250.0,320.8 L253.3,320.3 L257.5,320.8 L260.8,318.3 L264.7,321.2 L270.0,318.3 L274.2,316.7 L278.3,317.8 L282.5,316.7 L285.8,317.8 L289.2,317.0 L292.5,314.7 L296.7,317.0 L302.5,319.2 L306.7,321.7 L310.3,325.0 L314.2,324.5 L318.3,325.8 L324.2,330.5 L328.3,328.8 L331.3,327.8 L334.7,335.8 L338.3,333.7 L345.0,334.2 L349.2,338.0 L353.3,336.3 L359.2,336.7 L363.3,334.5 L366.7,334.7 L369.2,333.3 L371.7,335.8 L375.0,339.2 L380.0,340.0 L386.7,340.5 L391.7,342.5 L396.7,344.7 L400.8,343.3 L405.0,338.7 L410.8,337.8 L415.0,340.8 L418.7,341.2 L421.7,334.2 L425.0,330.0 L429.2,329.2 L433.3,323.3 L439.2,318.3 L443.3,318.3 L446.7,317.2 L450.0,317.0 L453.3,321.7 L456.7,319.2 L460.0,318.3 L464.2,320.8 L470.8,321.2 L474.2,322.2 L478.3,327.0 L481.7,325.8 L485.0,328.3 L489.2,323.0 L495.0,325.8 L500.0,324.7 L503.3,329.5 L506.7,329.5 L510.3,322.5 L513.3,323.0 L516.7,322.2 L520.8,324.7 L525.0,323.3 L529.2,324.5 L531.7,324.7 L535.0,323.3 L538.3,324.7 L541.7,318.3 L545.8,316.7 L549.2,317.0 L553.3,319.7 L558.7,323.7 L562.5,321.3 L565.8,316.3 L570.0,317.0 L573.3,317.0 L576.7,318.0 L580.0,317.5 L583.3,319.2 L586.7,320.8 L590.8,320.8 L594.2,323.3 L597.5,320.5 L600.8,319.7 L604.2,321.2 L608.3,317.5 L611.7,316.7 L616.7,316.7 L621.7,315.8 L625.0,317.0 L629.2,323.0 L632.5,326.3 L636.3,331.3 L640.0,329.5 L645.8,328.3 L650.0,323.0 L653.7,321.2 L657.5,323.3 L660.8,326.7 L664.2,339.2 L670.0,339.5 L674.5,341.3 L678.3,337.5 L682.0,328.7 L688.3,328.3 L691.7,329.2 L696.7,320.8 L700.8,318.0 L706.3,315.8 L710.0,317.0 L715.8,317.2 L720.0,323.0 L726.7,323.8 L730.0,323.3 L735.0,325.8 L741.7,330.8 L744.2,330.5 L747.5,331.7 L750.0,330.8" fill="none" stroke="#5b70f0" stroke-width="1.2" stroke-linejoin="round"/>
<text transform="translate(43.7,423.8) scale(0.86,1)" x="0" y="0" text-anchor="middle" font-size="9.2" font-weight="normal" fill="#585858">19</text>
<text transform="translate(152,423.8) scale(0.86,1)" x="0" y="0" text-anchor="middle" font-size="9.2" font-weight="normal" fill="#585858">26</text>
<text transform="translate(255.7,423.8) scale(0.86,1)" x="0" y="0" text-anchor="middle" font-size="9.2" font-weight="bold" fill="#585858">Jul</text>
<text transform="translate(369.5,423.8) scale(0.86,1)" x="0" y="0" text-anchor="middle" font-size="9.2" font-weight="normal" fill="#585858">10</text>
<text transform="translate(478.5,423.8) scale(0.86,1)" x="0" y="0" text-anchor="middle" font-size="9.2" font-weight="normal" fill="#585858">17</text>
<text transform="translate(587.5,423.8) scale(0.86,1)" x="0" y="0" text-anchor="middle" font-size="9.2" font-weight="normal" fill="#585858">24</text>
<text transform="translate(650.5,423.8) scale(0.86,1)" x="0" y="0" text-anchor="middle" font-size="9.2" font-weight="normal" fill="#585858">27</text>
<text transform="translate(717.2,423.8) scale(0.86,1)" x="0" y="0" text-anchor="middle" font-size="9.2" font-weight="bold" fill="#585858">Aug</text>
</g>
</svg></body></html>
